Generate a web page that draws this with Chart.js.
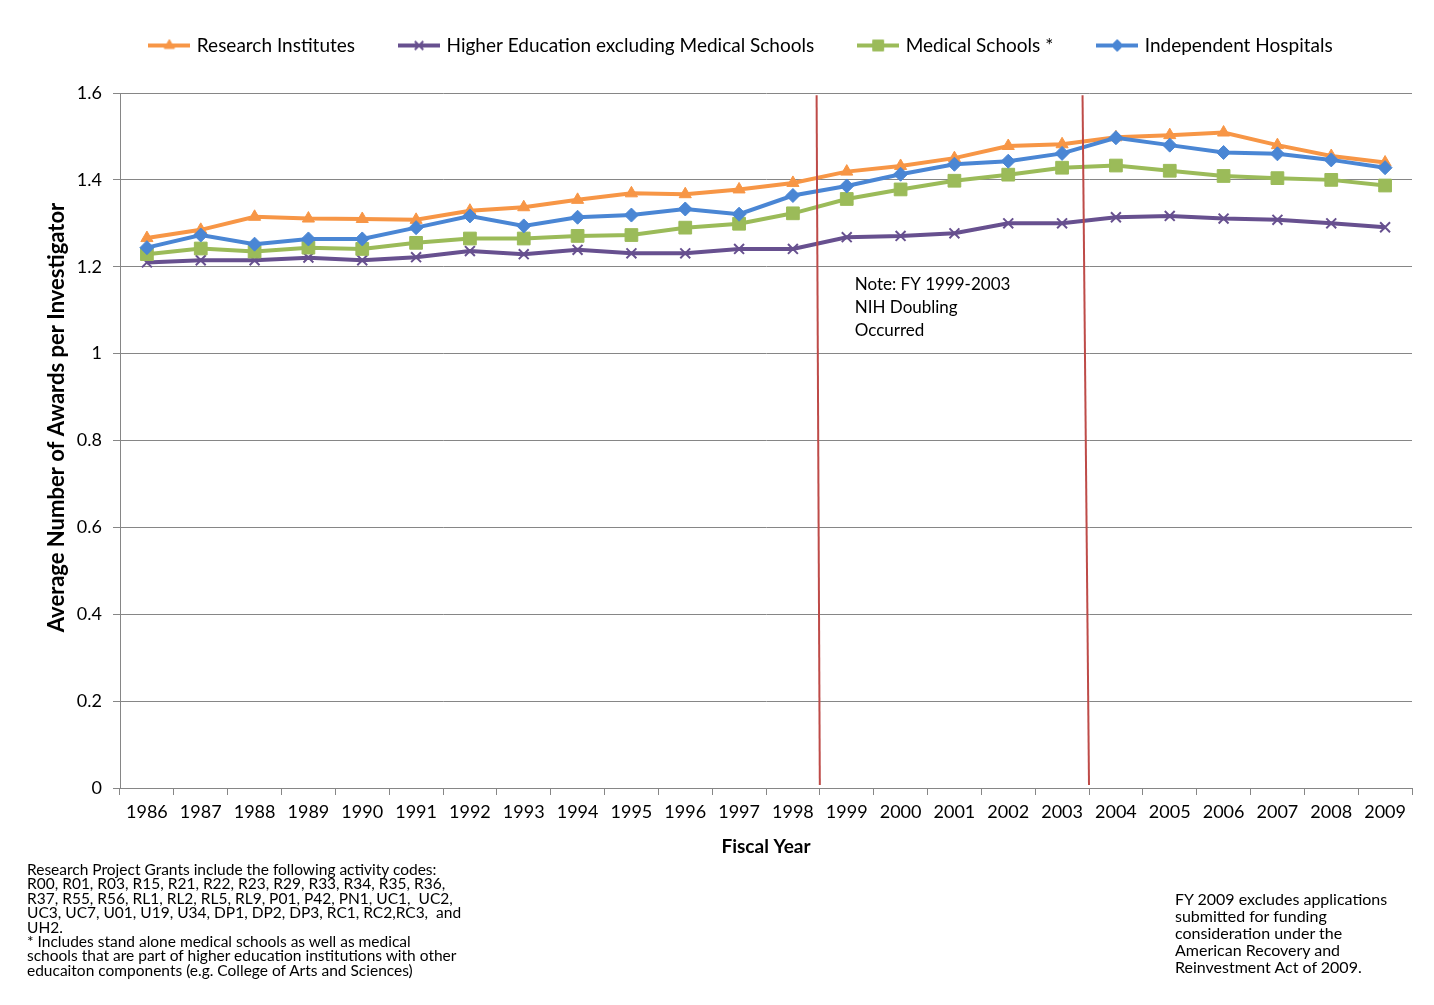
<!DOCTYPE html>
<html>
<head>
<meta charset="utf-8">
<script src="https://cdn.jsdelivr.net/npm/chart.js@4"></script>
<style>
  body { margin: 0; background: #fff; }
  #wrap { position: relative; width: 1434px; height: 1005px; }
  .note { position: absolute; font-family: Lato, sans-serif; color: #000; }
</style>
</head>
<body>
<div id="wrap">
  <canvas id="chart-area"></canvas>
  <div class="note" style="left:27px; top:862px; font-size:15.5px; line-height:14.4px;">
    Research Project Grants include the following activity codes:<br>
    R00, R01, R03, R15, R21, R22, R23, R29, R33, R34, R35, R36,<br>
    R37, R55, R56, RL1, RL2, RL5, RL9, P01, P42, PN1, UC1,&nbsp; UC2,<br>
    UC3, UC7, U01, U19, U34, DP1, DP2, DP3, RC1, RC2,RC3,&nbsp; and<br>
    UH2.<br>
    * Includes stand alone medical schools as well as medical<br>
    schools that are part of higher education institutions with other<br>
    educaiton components (e.g. College of Arts and Sciences)
  </div>
  <div class="note" style="left:1175px; top:890px; font-size:16px; line-height:17px;">
    FY 2009 excludes applications<br>
    submitted for funding<br>
    consideration under the<br>
    American Recovery and<br>
    Reinvestment Act of 2009.
  </div>
</div>
<script>
var years = ['1986', '1987', '1988', '1989', '1990', '1991', '1992', '1993', '1994', '1995', '1996', '1997',
	'1998', '1999', '2000', '2001', '2002', '2003', '2004', '2005', '2006', '2007', '2008', '2009'];

var researchInstitutes = [1.266, 1.285, 1.315, 1.311, 1.310, 1.308, 1.329, 1.337, 1.354, 1.369, 1.367, 1.378,
	1.393, 1.419, 1.432, 1.450, 1.478, 1.482, 1.498, 1.503, 1.509, 1.480, 1.455, 1.440];
var higherEducation = [1.210, 1.215, 1.215, 1.221, 1.215, 1.222, 1.236, 1.229, 1.239, 1.231, 1.231, 1.241,
	1.241, 1.268, 1.271, 1.277, 1.300, 1.300, 1.314, 1.317, 1.311, 1.308, 1.300, 1.291];
var medicalSchools = [1.229, 1.242, 1.235, 1.244, 1.241, 1.255, 1.265, 1.265, 1.271, 1.273, 1.290, 1.299,
	1.323, 1.356, 1.378, 1.398, 1.412, 1.428, 1.433, 1.421, 1.409, 1.404, 1.400, 1.387];
var independentHospitals = [1.244, 1.273, 1.252, 1.264, 1.264, 1.290, 1.317, 1.294, 1.314, 1.319, 1.333, 1.321,
	1.364, 1.386, 1.413, 1.436, 1.443, 1.461, 1.497, 1.480, 1.463, 1.460, 1.446, 1.428];

var seriesNames = ['Research Institutes', 'Higher Education excluding Medical Schools', 'Medical Schools *', 'Independent Hospitals'];
var yTicks = [0, 0.2, 0.4, 0.6, 0.8, 1, 1.2, 1.4, 1.6];

// doubling period markers: [top, bottom] positions on the category scale
var doublingLines = [[12.44, 12.5], [17.38, 17.5]];
var noteLines = ['Note: FY 1999-2003', 'NIH Doubling', 'Occurred'];

var orange = '#f79646';
var purple = '#67508f';
var green = '#9bbb59';
var blue = '#4a86d4';

Chart.defaults.font.family = 'Lato, sans-serif';
Chart.defaults.color = '#000';

// little line + marker image for the legend
function legendIcon(color, style, radius, bw) {
	var c = document.createElement('canvas');
	c.width = 42;
	c.height = 18;
	var g = c.getContext('2d');
	g.strokeStyle = color;
	g.lineWidth = 4;
	g.beginPath();
	g.moveTo(0, 9);
	g.lineTo(42, 9);
	g.stroke();
	g.fillStyle = color;
	g.strokeStyle = color;
	g.lineWidth = bw;
	Chart.helpers.drawPoint(g, { pointStyle: style, radius: radius, rotation: 0, borderWidth: bw }, 21, 9);
	return c;
}

function makeSet(label, data, color, style, radius, bw, order) {
	return {
		label: label,
		data: data,
		borderColor: color,
		backgroundColor: color,
		borderWidth: 4,
		pointStyle: style,
		pointRadius: radius,
		pointBorderWidth: bw,
		pointBackgroundColor: color,
		pointBorderColor: color,
		tension: 0,
		order: order,
		icon: legendIcon(color, style, radius * 0.85, bw)
	};
}

var doublingPlugin = {
	id: 'doubling',
	afterDatasetsDraw: function(chart) {
		var ctx = chart.ctx;
		var xs = chart.scales.x;
		var ys = chart.scales.y;
		ctx.save();
		ctx.strokeStyle = '#be4b48';
		ctx.lineWidth = 2;
		doublingLines.forEach(function(l) {
			ctx.beginPath();
			ctx.moveTo(xs.getPixelForValue(l[0]), ys.getPixelForValue(1.595));
			ctx.lineTo(xs.getPixelForValue(l[1]), ys.getPixelForValue(0.007));
			ctx.stroke();
		});
		ctx.fillStyle = '#000';
		ctx.font = '17px Lato, sans-serif';
		ctx.textBaseline = 'middle';
		noteLines.forEach(function(t, i) {
			ctx.fillText(t, xs.getPixelForValue(13) + 8, ys.getPixelForValue(1.16) + i * 23);
		});
		ctx.restore();
	}
};

// extra room under the legend, legend nudged up/right, y title nudged up
var layoutTweaks = {
	id: 'layoutTweaks',
	beforeInit: function(chart) {
		var fit = chart.legend.fit;
		chart.legend.fit = function() {
			fit.bind(chart.legend)();
			this.height += 18;
		};
	},
	afterLayout: function(chart) {
		chart.legend.left += 72;
		chart.legend.top -= 10;
		chart.legend.bottom -= 10;
		var ys = chart.scales.y;
		if (!ys._titleShifted) {
			var drawTitle = ys.drawTitle;
			ys.drawTitle = function() {
				this.ctx.save();
				this.ctx.translate(0, -23);
				drawTitle.apply(this, arguments);
				this.ctx.restore();
			};
			ys._titleShifted = true;
		}
	}
};

var config = {
	type: 'line',
	data: {
		labels: years,
		datasets: [
			makeSet(seriesNames[0], researchInstitutes, orange, 'triangle', 7, 1, 3),
			makeSet(seriesNames[1], higherEducation, purple, 'crossRot', 7, 2, 2),
			makeSet(seriesNames[2], medicalSchools, green, 'rect', 9, 1, 1),
			makeSet(seriesNames[3], independentHospitals, blue, 'rectRot', 7, 1, 0)
		]
	},
	options: {
		responsive: false,
		animation: false,
		layout: { padding: { top: 0, right: 22, bottom: 147, left: 0 } },
		plugins: {
			tooltip: { enabled: false },
			legend: {
				position: 'top',
				labels: {
					usePointStyle: true,
					pointStyleWidth: 36,
					padding: 46,
					font: { size: 19 },
					sort: function(a, b) { return a.datasetIndex - b.datasetIndex; },
					generateLabels: function(chart) {
						return chart.data.datasets.map(function(ds, i) {
							return {
								text: ds.label,
								pointStyle: ds.icon,
								fillStyle: ds.borderColor,
								strokeStyle: ds.borderColor,
								lineWidth: 0,
								datasetIndex: i,
								fontColor: '#000'
							};
						});
					}
				}
			}
		},
		scales: {
			x: {
				offset: true,
				grid: { display: true, offset: true, drawOnChartArea: false, tickLength: 7, color: '#868686' },
				border: { color: '#868686' },
				ticks: { font: { size: 18 }, padding: 6, maxRotation: 0, autoSkip: false },
				title: { display: true, text: 'Fiscal Year', font: { size: 19, weight: 'bold' }, padding: { top: 1, bottom: 0 } },
				afterFit: function(s) { s.height = 70; }
			},
			y: {
				min: 0,
				max: 1.6,
				afterBuildTicks: function(s) { s.ticks = yTicks.map(function(v) { return { value: v }; }); },
				grid: { color: '#868686', tickLength: 7 },
				border: { color: '#868686' },
				ticks: {
					font: { size: 18 },
					padding: 11,
					callback: function(v) { return String(+v.toFixed(1)); }
				},
				title: { display: true, text: 'Average Number of Awards per Investigator', font: { size: 22, weight: 'bold' }, padding: { top: 44, bottom: 0 } },
				afterFit: function(s) { s.width = 120; }
			}
		}
	},
	plugins: [doublingPlugin, layoutTweaks]
};

var context = document.getElementById('chart-area').getContext('2d');
context.canvas.width = 1434;
context.canvas.height = 1005;
window.myChart = new Chart(context, config);
</script>
</body>
</html>
